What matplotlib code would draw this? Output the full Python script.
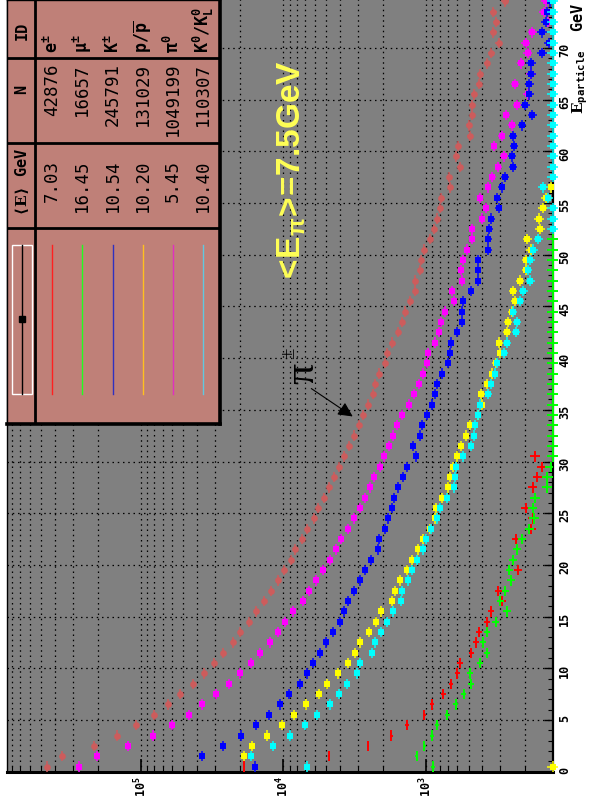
import numpy as np
import matplotlib.pyplot as plt
from matplotlib.patches import Rectangle
from matplotlib.ticker import LogLocator, MultipleLocator, NullFormatter

plt.rcParams['font.family'] = 'DejaVu Sans Mono'
plt.rcParams['mathtext.fontset'] = 'custom'
plt.rcParams['mathtext.rm'] = 'DejaVu Sans Mono:bold'
plt.rcParams['mathtext.it'] = 'DejaVu Sans Mono:bold'
plt.rcParams['mathtext.bf'] = 'DejaVu Serif:bold'
plt.rcParams['mathtext.sf'] = 'Liberation Sans:bold'

W, H = 590, 809

# 1 GeV bins, 0..75 GeV
E_BINS = np.arange(75) + 0.5
E_RANGE = (0, 75)
N_RANGE = (8.6e5, 129)   # log axis, runs right-to-left in the rotated picture

nan = np.nan

PI_CHARGED = [
    4.56e5, 3.58e5, 2.13e5, 1.46e5, 1.07e5, 8.09e4, 6.45e4, 5.27e4, 4.31e4, 3.61e4,
    3.06e4, 2.66e4, 2.26e4, 2.00e4, 1.74e4, 1.56e4, 1.37e4, 1.22e4, 1.09e4, 9910,
    8810, 8260, 7380, 6800, 6080, 5720, 5170, 4770, 4400, 4060,
    3760, 3450, 3170, 2940, 2750, 2540, 2340, 2270, 2130, 1940,
    1870, 1720, 1560, 1470, 1400, 1290, 1190, 1190, 1100, 1080,
    1020, 933, 871, 837, 794, 778, 675, 683, 575, 613,
    591, 489, 497, 471, 471, 456, 423, 416, 372, 347,
    308, 337, 321, 337, 278,
]
PI_ZERO = [
    2.69e5, 2.03e5, 1.22e5, 8.23e4, 6.05e4, 4.60e4, 3.69e4, 2.97e4, 2.41e4, 2.02e4,
    1.69e4, 1.45e4, 1.24e4, 1.09e4, 9660, 8570, 7290, 6590, 5910, 5280,
    4690, 4280, 3930, 3510, 3200, 2890, 2670, 2460, 2310, 2090,
    1960, 1810, 1700, 1590, 1470, 1310, 1210, 1110, 1040, 984,
    968, 861, 803, 778, 732, 633, 654, 554, 563, 545,
    516, 471, 471, 401, 378, 416, 367, 341, 311, 282,
    332, 293, 248, 272, 229, 193, 236, 183, 215, 193,
    199, 179, 139, 149, 144,
]
K_CHARGED = [
    1.58e4, 3.73e4, 2.66e4, 1.99e4, 1.56e4, 1.26e4, 1.05e4, 9140, 7650, 6840,
    6200, 5510, 5000, 4490, 3990, 3760, 3510, 3180, 2890, 2670,
    2420, 2160, 2130, 1930, 1840, 1720, 1670, 1560, 1440, 1350,
    1170, 1230, 1100, 1060, 979, 903, 861, 829, 769, 698,
    675, 665, 603, 554, 554, 545, 481, 428, 428, 428,
    364, 364, 358, 347, 308, 316, 293, 278, 243, 249,
    239, 243, 212, 179, 201, 189, 189, 182, 183, 153,
    137, 153, 143, 140, 134,
]
PROTON = [
    nan, 1.87e4, 1.66e4, 1.30e4, 1.02e4, 8350, 6950, 5600, 4950, 4140,
    3510, 3130, 2880, 2510, 2230, 2060, 1720, 1640, 1510, 1350,
    1240, 1130, 1050, 929, 856, 851, 769, 698, 675, 644,
    603, 565, 522, 489, 430, 401, 407, 370, 344, 323,
    301, 306, 269, 265, 248, 236, 243, 218, 198, 198,
    183, 194, 158, 160, 150, 143, 132,
]
K_ZERO = [
    6840, 1.69e4, 1.18e4, 8950, 7060, 5820, 4690, 4060, 3580, 3030,
    2890, 2380, 2280, 2070, 1870, 1700, 1500, 1470, 1340, 1250,
    1160, 1050, 1000, 922, 837, 794, 709, 633, 623, 616,
    547, 479, 458, 451, 430, 416, 364, 348, 327, 318,
    282, 269, 233, 229, 243, 218, 207, 185, 193, 185,
    176, 162, nan, nan, nan, 139, 150,
]
ELECTRON = [
    1.87e4, 4770, 2530, 1740, 1350, 1020, 908, 752, 665, 600,
    575, 479, 444, 421, 373, 348, 290, 310, nan, 225,
    nan, nan, 233, 183, 178, 199, nan, 178, 165, 153,
    171,
]
MUON = [
    885, 1160, 1020, 899, 833, 706, 616, 541, 483, 491,
    414, 373, 398, 373, 323, 270, 301, 276, 251, 259,
    245, 228, 212, 189, 174, 178, 171, 142, 140, 133,
]

# bins whose content is below the axis minimum (drawn on the frame)
PROTON_FLOOR = [0]
K_ZERO_FLOOR = [52, 53, 54] + list(range(57, 75))
MUON_FLOOR = list(range(30, 52))
ELECTRON_FLOOR = [32, 33]

IDS = [r'$\mathrm{e}^{\pm}$', r'$\mathrm{\mu}^{\pm}$', r'$\mathrm{K}^{\pm}$',
       r'$\mathrm{p}/\overline{\mathrm{p}}$', r'$\mathrm{\pi}^{0}$',
       r'$\mathrm{K}^{0}/\mathrm{K}^{0}_{L}$']
N_EVENTS = ['42876', '16657', '245791', '131029', '1049199', '110307']
MEAN_E = ['7.03', '16.45', '10.54', '10.20', '5.45', '10.40']
LINE_COLORS = ['#ff2020', '#20ff20', '#3030c0', '#ffc020', '#e030c0', '#60c8e0']


def draw_series(ax, vals, color, marker, ms, lw=1.1):
    vals = np.asarray(vals, dtype=float)
    e = E_BINS[:len(vals)]
    ok = ~np.isnan(vals)
    ax.errorbar(vals[ok], e[ok], xerr=np.sqrt(vals[ok]), yerr=0.5, fmt=marker,
                color=color, ms=ms, mew=0, elinewidth=lw, capsize=0, zorder=3)


def draw_floor(ax, bins, color, marker, ms, lw=1.1):
    e = E_BINS[bins]
    x = np.full(len(e), N_RANGE[1])
    cont = ax.errorbar(x, e, xerr=np.sqrt(x), yerr=0.5, fmt=marker, color=color,
                       ms=ms, mew=0, elinewidth=lw, capsize=0, zorder=4)
    for art in cont.get_children():
        art.set_clip_on(False)


fig = plt.figure(figsize=(W / 100, H / 100), dpi=100)
ax = fig.add_axes([7.3 / W, (H - 771.7) / H, (552.5 - 7.3) / W, (771.7 + 3.8) / H])
ax.set_facecolor('#808080')
ax.set_xscale('log')
ax.set_xlim(*N_RANGE)
ax.set_ylim(*E_RANGE)

draw_series(ax, PI_CHARGED, '#cd5c5c', 'o', 4.8)
draw_series(ax, PI_ZERO, '#ff00ff', 's', 4.3)
draw_series(ax, K_CHARGED, '#0000ff', 's', 4.3)
draw_series(ax, PROTON, '#ffff00', 's', 4.3)
draw_series(ax, K_ZERO, '#00ffff', 's', 4.3)
draw_series(ax, ELECTRON, '#ff0000', 'none', 0, lw=1.4)
draw_series(ax, MUON, '#00ff00', 'none', 0, lw=1.4)
draw_floor(ax, PROTON_FLOOR, '#ffff00', 's', 4.3)
draw_floor(ax, ELECTRON_FLOOR, '#ff0000', 'none', 0, lw=1.4)
draw_floor(ax, MUON_FLOOR, '#00ff00', 'none', 0, lw=1.4)
draw_floor(ax, K_ZERO_FLOOR, '#00ffff', 's', 4.3)

# axes: energy on the right, counts along the bottom
ax.yaxis.tick_right()
ax.set_yticks(np.arange(0, 75, 5))
ax.yaxis.set_minor_locator(MultipleLocator(1))
ax.tick_params(axis='y', which='major', direction='in', length=6.5, width=1.0,
               labelrotation=90, labelsize=8.5, pad=4)
ax.tick_params(axis='y', which='minor', direction='in', length=3.5, width=0.8)
ax.set_xticks([1e3, 1e4, 1e5], [r'$10^{3}$', r'$10^{4}$', r'$10^{5}$'])
ax.xaxis.set_minor_locator(LogLocator(base=10, subs=np.arange(2, 10)))
ax.xaxis.set_minor_formatter(NullFormatter())
ax.tick_params(axis='x', which='major', direction='in', length=9.5, width=1.2,
               labelrotation=90, labelsize=8.5, pad=3.5)
ax.tick_params(axis='x', which='minor', direction='in', length=4.5, width=0.8)
for lbl in ax.get_yticklabels():
    lbl.set_fontweight('bold')

ax.set_axisbelow(True)
ax.grid(True, which='major', axis='y', ls=(0, (1.2, 3)), color='k', lw=0.9)
ax.grid(True, which='both', axis='x', ls=(0, (1.2, 3)), color='k', lw=0.9)
ax.spines['bottom'].set_linewidth(2.2)
ax.spines['right'].set_linewidth(1.6)
ax.spines['left'].set_linewidth(1.0)

fig.text(580 / W, 1 - 3 / H, r'$\mathbf{E}_{\mathrm{particle}}$  GeV', rotation=90,
         ha='center', va='top', fontsize=11, fontweight='bold')

# annotations inside the frame
fig.text(292 / W, 1 - 170 / H, r'$\mathsf{\!<\!E_{\pi}\!>\!\!=\!7.5GeV}$', rotation=90,
         ha='center', va='center', fontsize=24, color='#ffff55')
fig.text(303 / W, 1 - 373 / H, 'π', rotation=90, ha='center', va='center',
         fontsize=30, family='Liberation Serif')
fig.text(290 / W, 1 - 353 / H, '±', rotation=90, ha='center', va='center',
         fontsize=15, family='Liberation Serif')
ax.annotate('', xy=(355 / W, 1 - 418 / H), xytext=(309 / W, 1 - 387 / H),
            xycoords='figure fraction', textcoords='figure fraction',
            arrowprops=dict(arrowstyle='-|>', color='k', lw=0.8, mutation_scale=22))

# legend table, drawn in pixel coordinates of its own box
lax = fig.add_axes([7.3 / W, 1 - 424 / H, (220 - 7.3) / W, 424 / H])
lax.set_xlim(7.3, 220)
lax.set_ylim(424, 0)
lax.set_facecolor('#bf8078')
lax.set_xticks([])
lax.set_yticks([])
for side, lw in [('left', 1.0), ('top', 1.0), ('right', 2.6), ('bottom', 2.6)]:
    lax.spines[side].set_linewidth(lw)
lax.axvline(35, color='k', lw=2)
for yy in (58, 143, 228):
    lax.axhline(yy, color='k', lw=2)

lax.text(22, 31, 'ID', rotation=90, ha='center', va='center', fontsize=11, fontweight='bold')
lax.text(22, 89, 'N', rotation=90, ha='center', va='center', fontsize=11, fontweight='bold')
lax.text(22, 182, r'$\langle\mathbf{E}\rangle$ GeV', rotation=90, ha='center', va='center',
         fontsize=11, fontweight='bold')
lax.add_patch(Rectangle((12, 245), 20, 149, fill=False, edgecolor='white', lw=1))
lax.plot([22.3, 22.3], [245, 394], color='k', lw=1)
lax.plot([22.3], [319], 's', color='k', ms=5)

cols = [52, 82, 113, 143, 173, 203]
for xc, ident, n, me, lc in zip(cols, IDS, N_EVENTS, MEAN_E, LINE_COLORS):
    lax.text(xc, 53, ident, rotation=90, ha='center', va='bottom', fontsize=12)
    lax.text(xc, 63, n, rotation=90, ha='center', va='top', fontsize=12.5)
    lax.text(xc, 160, me, rotation=90, ha='center', va='top', fontsize=12.5)
    lax.plot([xc, xc], [245, 394], color=lc, lw=1)

fig.savefig('out.png', dpi=100)
